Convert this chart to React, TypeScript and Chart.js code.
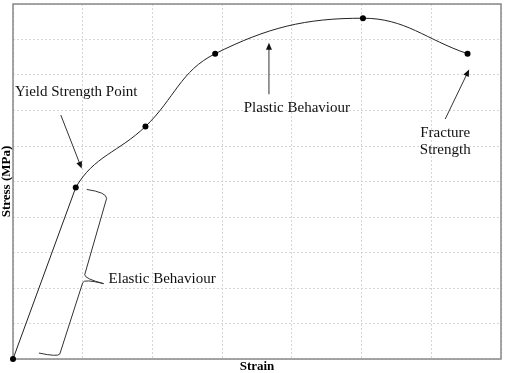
import React, { useEffect, useRef } from "react";
import { Chart, registerables } from "chart.js";

Chart.register(...registerables);

// ---- data ----
const strain = [0, 0.9, 1.9, 2.9, 5.02, 6.52];
const stress = [0, 4.83, 6.55, 8.6, 9.6, 8.6];
const xMax = 7;
const yMax = 10;
const xTitle = "Strain";
const yTitle = "Stress (MPa)";

const SERIF = "'Liberation Serif', 'Times New Roman', Times, serif";

// annotation texts, placed in the reference frame (plot spans x 13..503, y 1..359)
const labelTexts = [["Yield Strength Point"], ["Plastic Behaviour"], ["Fracture", "Strength"], ["Elastic Behaviour"]];
const labelPos: [number, number, CanvasTextAlign][] = [
  [15, 90, "left"],
  [298, 106, "center"],
  [447, 131, "center"],
  [109, 278, "left"],
];
const arrowPos = [
  [61, 113, 82, 167],
  [270, 92, 270, 40],
  [447, 117, 471, 67],
];

const annotations = {
  id: "annotations",
  beforeDatasetsDraw(chart: any) {
    const { ctx, chartArea: a } = chart;
    ctx.save();
    ctx.strokeStyle = "#888";
    ctx.lineWidth = 1.5;
    ctx.strokeRect(a.left, a.top, a.right - a.left, a.bottom - a.top);
    ctx.restore();
  },
  afterDatasetsDraw(chart: any) {
    const { ctx, chartArea: a } = chart;
    const X = (px: number) => a.left + ((px - 13) / 490) * (a.right - a.left);
    const Y = (py: number) => a.top + ((py - 1) / 358) * (a.bottom - a.top);
    ctx.save();
    // labels
    ctx.fillStyle = "#111";
    ctx.font = `15px ${SERIF}`;
    ctx.textBaseline = "middle";
    labelTexts.forEach((lines, i) => {
      const [x, y, al] = labelPos[i];
      ctx.textAlign = al;
      lines.forEach((t, j) => ctx.fillText(t, X(x), Y(y) + j * 17));
    });
    // arrows
    ctx.strokeStyle = "#333";
    ctx.fillStyle = "#111";
    ctx.lineWidth = 1;
    arrowPos.forEach(([x1, y1, x2, y2]) => {
      const ax = X(x1), ay = Y(y1), bx = X(x2), by = Y(y2);
      const ang = Math.atan2(by - ay, bx - ax);
      const L = 7, W = 3;
      ctx.beginPath();
      ctx.moveTo(ax, ay);
      ctx.lineTo(bx - Math.cos(ang) * L * 0.8, by - Math.sin(ang) * L * 0.8);
      ctx.stroke();
      ctx.beginPath();
      ctx.moveTo(bx, by);
      ctx.lineTo(bx - Math.cos(ang) * L - Math.sin(ang) * W, by - Math.sin(ang) * L + Math.cos(ang) * W);
      ctx.lineTo(bx - Math.cos(ang) * L + Math.sin(ang) * W, by - Math.sin(ang) * L - Math.cos(ang) * W);
      ctx.closePath();
      ctx.fill();
    });
    // brace for elastic region
    ctx.beginPath();
    ctx.moveTo(X(87), Y(188));
    ctx.quadraticCurveTo(X(107), Y(191), X(107), Y(197));
    ctx.lineTo(X(85), Y(274));
    ctx.quadraticCurveTo(X(85), Y(278), X(104), Y(283));
    ctx.moveTo(X(104), Y(283));
    ctx.quadraticCurveTo(X(84), Y(278), X(83), Y(282));
    ctx.lineTo(X(60), Y(354));
    ctx.quadraticCurveTo(X(58), Y(357), X(39), Y(353));
    ctx.stroke();
    ctx.restore();
  },
};

export default function App() {
  const ref = useRef<HTMLCanvasElement>(null);
  useEffect(() => {
    document.body.style.margin = "0";
    const canvas = ref.current!;
    const pts = strain.map((x, i) => ({ x, y: stress[i] }));
    const chart = new Chart(canvas, {
      type: "line",
      data: {
        datasets: [
          {
            label: "Stress-strain",
            data: pts,
            tension: 0.4,
            borderColor: "#222",
            borderWidth: 1,
            pointRadius: 3,
            pointBackgroundColor: "#000",
            pointBorderColor: "#000",
            pointBorderWidth: 0,
            clip: false,
            segment: {
              borderColor: (c: any) => (c.p0DataIndex === 0 ? "rgba(0,0,0,0)" : undefined),
            },
          } as any,
          {
            label: "Elastic",
            data: pts.slice(0, 2),
            tension: 0,
            borderColor: "#222",
            borderWidth: 1,
            pointRadius: 0,
            clip: false,
          } as any,
        ],
      },
      options: {
        responsive: false,
        animation: false,
        events: [],
        layout: { padding: { top: 1, right: 2, left: 0, bottom: 0 } },
        plugins: { legend: { display: false }, tooltip: { enabled: false } },
        scales: {
          x: {
            type: "linear",
            min: 0,
            max: xMax,
            ticks: { display: false, stepSize: 1 },
            grid: { color: "#d6d6d6", drawTicks: false, lineWidth: 1 },
            border: { display: false, dash: [2, 2] },
            title: {
              display: true,
              text: xTitle,
              color: "#000",
              font: { family: SERIF, size: 13, weight: "bold", lineHeight: 1.0 },
              padding: 0,
            },
            afterFit: (s: any) => {
              s.height = 14;
            },
          },
          y: {
            type: "linear",
            min: 0,
            max: yMax,
            ticks: { display: false, stepSize: 1 },
            grid: { color: "#d6d6d6", drawTicks: false, lineWidth: 1 },
            border: { display: false, dash: [2, 2] },
            title: {
              display: true,
              text: yTitle,
              color: "#000",
              font: { family: SERIF, size: 13, weight: "bold", lineHeight: 1.0 },
              padding: 0,
            },
            afterFit: (s: any) => {
              s.width = 13;
            },
          },
        },
      },
      plugins: [annotations],
    });
    return () => chart.destroy();
  }, []);
  return <canvas ref={ref} width={505} height={373} style={{ display: "block", width: 505, height: 373 }} />;
}
